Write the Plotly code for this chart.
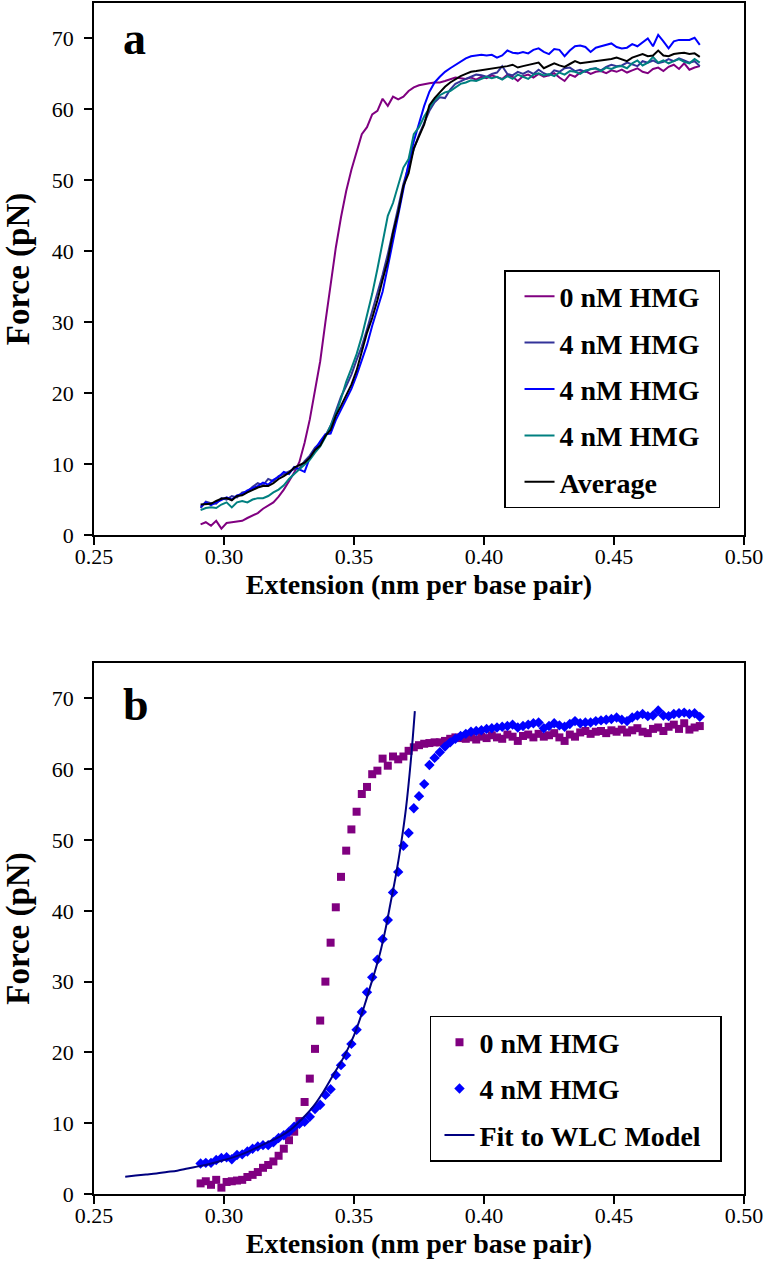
import plotly.graph_objects as go

# Extension (nm per base pair)
ext = [0.291, 0.293, 0.295, 0.297, 0.299, 0.301, 0.303, 0.305, 0.307, 0.309,
       0.311, 0.313, 0.315, 0.317, 0.319, 0.321, 0.323, 0.325, 0.327, 0.329,
       0.331, 0.333, 0.335, 0.337, 0.339, 0.341, 0.343, 0.345, 0.347, 0.349,
       0.351, 0.353, 0.355, 0.357, 0.359, 0.361, 0.363, 0.365, 0.367, 0.369,
       0.371, 0.373, 0.375, 0.377, 0.379, 0.381, 0.383, 0.385, 0.387, 0.389,
       0.391, 0.393, 0.395, 0.397, 0.399, 0.401, 0.403, 0.405, 0.407, 0.409,
       0.411, 0.413, 0.415, 0.417, 0.419, 0.421, 0.423, 0.425, 0.427, 0.429,
       0.431, 0.433, 0.435, 0.437, 0.439, 0.441, 0.443, 0.445, 0.447, 0.449,
       0.451, 0.453, 0.455, 0.457, 0.459, 0.461, 0.463, 0.465, 0.467, 0.469,
       0.471, 0.473, 0.475, 0.477, 0.479, 0.481, 0.483]

# Force (pN), 0 nM HMG
f_0nM = [1.5, 1.8, 1.3, 2.0, 0.9, 1.7, 1.8, 1.9, 2.0, 2.4,
         2.7, 3.1, 3.7, 4.1, 4.6, 5.4, 6.4, 7.6, 8.8, 10.3,
         13.0, 16.3, 20.5, 24.5, 30.0, 35.5, 40.5, 44.8, 48.5, 51.5,
         54.0, 56.5, 57.5, 59.3, 59.8, 61.5, 60.5, 61.8, 61.4, 61.8,
         62.6, 63.1, 63.4, 63.6, 63.7, 63.8, 63.8, 64.0, 64.3, 64.5,
         64.4, 64.3, 64.5, 64.2, 64.6, 64.4, 64.8, 64.5, 64.3, 64.9,
         64.6, 64.0, 64.7, 64.9, 64.5, 65.0, 64.6, 64.8, 65.1, 64.5,
         64.0, 64.9, 64.6, 65.2, 65.4, 65.0, 65.3, 65.4, 65.1, 65.5,
         65.3, 65.6, 65.2, 65.5, 65.8, 65.3, 65.1, 65.7, 65.9, 65.4,
         66.0, 66.3, 65.7, 66.5, 65.6, 65.9, 66.1]

# Force (pN), 4 nM HMG run 1 (dark blue)
f_4nM_1 = [3.8, 4.7, 4.5, 4.4, 5.2, 5.0, 5.5, 5.3, 6.0, 6.1,
           6.8, 7.3, 7.0, 7.9, 7.6, 8.3, 8.6, 9.0, 9.3, 9.4,
           10.4, 11.2, 12.3, 13.0, 14.0, 15.4, 17.6, 19.5, 21.0, 22.6,
           24.7, 26.6, 29.0, 31.5, 34.0, 36.7, 39.6, 43.0, 46.3, 49.5,
           52.0, 54.4, 56.4, 58.2, 59.8, 61.0, 61.7, 61.6, 62.8, 63.6,
           64.0, 64.3, 64.6, 64.9, 64.8, 64.6, 65.0, 65.2, 66.1, 65.0,
           64.8, 65.3, 65.0, 65.4, 65.0, 65.6, 65.1, 64.8, 65.5, 65.3,
           65.8, 65.9, 65.4, 65.6, 65.3, 65.7, 65.8, 65.5, 66.0, 66.3,
           66.1, 66.2, 66.6, 66.3, 66.1, 66.8, 66.6, 66.9, 66.5, 66.7,
           67.1, 66.8, 67.2, 66.9, 66.6, 66.8, 66.1]

# Force (pN), 4 nM HMG run 2 (blue)
f_4nM_2 = [4.0, 4.6, 4.2, 4.6, 5.0, 5.3, 5.0, 5.6, 5.8, 6.3,
           6.6, 6.9, 7.4, 7.1, 7.8, 8.2, 8.9, 8.6, 9.6, 9.2,
           8.9, 10.9, 12.1, 13.2, 14.2, 14.3, 16.2, 17.6, 19.0, 20.6,
           22.5, 24.6, 26.8, 29.5, 32.0, 34.3, 37.8, 41.5, 45.2, 49.0,
           52.4, 55.5, 58.0, 60.5, 62.5, 63.8, 64.6, 65.3, 65.8, 66.3,
           66.8, 67.2, 67.5, 67.6, 67.7, 67.6, 67.7, 67.3, 67.6, 68.3,
           68.0, 67.9, 68.1, 67.9, 68.4, 68.6, 68.1, 67.8, 68.5, 68.4,
           67.5, 68.3, 68.9, 69.0, 68.8, 68.1, 68.7, 68.9, 69.1, 69.3,
           68.8, 68.6, 68.7, 69.2, 68.9, 69.5, 70.0, 68.9, 70.5, 69.6,
           68.6, 69.6, 69.8, 69.8, 69.8, 70.1, 69.1]

# Force (pN), 4 nM HMG run 3 (teal)
f_4nM_3 = [3.5, 3.8, 3.9, 3.8, 4.3, 4.6, 3.9, 4.6, 4.8, 4.6,
           5.0, 5.2, 5.2, 5.5, 6.0, 6.4, 7.0, 7.9, 8.6, 9.3,
           10.0, 10.6, 11.6, 12.5, 13.8, 15.5, 17.0, 19.2, 21.6, 23.5,
           25.5, 28.0, 31.0, 34.0, 37.5, 41.5, 45.0, 46.8, 49.5, 51.8,
           53.0, 56.5, 57.5, 59.0, 60.2, 61.3, 62.0, 62.4, 62.6, 63.1,
           63.6, 63.8, 64.1, 64.0, 64.3, 64.6, 64.4, 64.6, 64.2, 64.7,
           64.3, 64.9, 64.6, 64.3, 64.9, 65.1, 64.8, 65.0, 64.7, 65.2,
           64.9, 65.4, 65.3, 65.0, 65.5, 65.6, 65.8, 65.4, 65.9, 65.7,
           66.0, 66.1, 65.8, 66.5, 66.9, 66.2, 66.6, 67.4, 66.6, 66.9,
           66.5, 66.8, 67.1, 66.7, 66.5, 67.1, 66.6]

# Force (pN), 4 nM HMG average
f_avg = [4.3, 4.4, 4.4, 4.8, 5.1, 5.2, 4.9, 5.5, 5.6, 6.0,
         6.4, 6.7, 6.9, 6.9, 7.3, 7.9, 8.3, 8.8, 9.5, 9.9,
         10.2, 10.9, 12.0, 12.6, 14.0, 14.8, 16.8, 18.2, 19.6, 21.2,
         23.2, 25.7, 28.5, 30.6, 33.1, 36.0, 38.7, 42.6, 45.5, 49.2,
         51.0, 54.5, 56.2, 57.9, 60.6, 61.6, 62.4, 63.2, 63.8, 64.3,
         64.7, 65.0, 65.3, 65.4, 65.5, 65.7, 65.8, 65.9, 66.0, 66.1,
         66.3, 65.9, 66.1, 66.3, 66.5, 66.6, 65.8, 66.1, 66.5, 66.2,
         66.0, 66.4, 66.8, 66.5, 66.6, 66.6, 66.8, 66.9, 67.0, 67.1,
         67.3, 67.0, 66.8, 67.3, 67.6, 67.8, 67.5, 67.6, 68.3, 67.6,
         67.5, 67.8, 67.9, 68.0, 67.8, 67.9, 67.4]

# Worm-like-chain fit
wlc_ext = [0.262, 0.266, 0.270, 0.274, 0.278, 0.282, 0.286, 0.290,
           0.294, 0.298, 0.302, 0.306, 0.310, 0.314, 0.318, 0.322, 0.326, 0.330,
           0.334, 0.338, 0.342, 0.346, 0.350, 0.354,
           0.356, 0.358, 0.360, 0.362, 0.364, 0.366, 0.368, 0.370, 0.372, 0.3734]
wlc_force = [2.45, 2.6, 2.75, 2.9, 3.1, 3.3, 3.6, 3.9,
             4.2, 4.6, 5.0, 5.5, 6.1, 6.8, 7.5, 8.2, 9.2, 10.6,
             12.2, 14.3, 16.8, 19.3, 22.4, 26.6,
             29.0, 31.4, 34.0, 37.2, 41.0, 44.8, 49.2, 54.5, 61.8, 68.2]

x_ticks = [0.25, 0.30, 0.35, 0.40, 0.45, 0.50]
x_tick_text = ["0.25", "0.30", "0.35", "0.40", "0.45", "0.50"]
y_ticks = [0, 10, 20, 30, 40, 50, 60, 70]

SERIF = "Times New Roman, Liberation Serif, Times, serif"
PURPLE = "#800080"
PAD = "\u00a0\u00a0"

fig = go.Figure()

line_series = [
    ("0 nM HMG" + PAD, f_0nM, PURPLE),
    ("4 nM HMG" + PAD, f_4nM_1, "#333399"),
    ("4 nM HMG" + PAD, f_4nM_2, "#0000FF"),
    ("4 nM HMG" + PAD, f_4nM_3, "#008080"),
    ("Average", f_avg, "#000000"),
]
for i, (name, ys, col) in enumerate(line_series):
    fig.add_trace(go.Scatter(x=ext, y=ys, mode="lines", name=name,
                             line=dict(color=col, width=2),
                             xaxis="x", yaxis="y", legend="legend",
                             legendgroup="a%d" % i))

fig.add_trace(go.Scatter(x=ext, y=f_0nM, mode="markers", name="0 nM HMG",
                         marker=dict(symbol="square", size=8, color=PURPLE),
                         xaxis="x2", yaxis="y2", legend="legend2", legendgroup="b0"))
fig.add_trace(go.Scatter(x=ext, y=f_avg, mode="markers", name="4 nM HMG",
                         marker=dict(symbol="diamond", size=8, color="#0000FF"),
                         xaxis="x2", yaxis="y2", legend="legend2", legendgroup="b1"))
fig.add_trace(go.Scatter(x=wlc_ext, y=wlc_force, mode="lines", name="Fit to WLC Model" + PAD,
                         line=dict(color="#000080", width=2, shape="spline"),
                         xaxis="x2", yaxis="y2", legend="legend2", legendgroup="b2"))

title_font = dict(family=SERIF, size=28, color="black", weight="bold")
ytitle_font = dict(family=SERIF, size=33, color="black", weight="bold")

def xax(anchor):
    return dict(anchor=anchor, domain=[0, 1], range=[0.25, 0.50], tickvals=x_ticks,
                ticktext=x_tick_text, ticks="outside", ticklen=8,
                tickwidth=1.5, tickcolor="black", showline=True, linecolor="black",
                linewidth=1.5, mirror=True, showgrid=False, zeroline=False,
                automargin=False, ticklabelstandoff=-7,
                tickfont=dict(family=SERIF, size=22, color="black"),
                title=dict(text="Extension (nm per base pair)", font=title_font, standoff=0))

def yax(anchor, dom):
    return dict(anchor=anchor, domain=dom, range=[0, 75], tickvals=y_ticks,
                ticks="outside", ticklen=8, tickwidth=1.5, tickcolor="black",
                showline=True, linecolor="black", linewidth=1.5, mirror=True,
                showgrid=False, zeroline=False, ticklabelstandoff=6, automargin=False,
                tickfont=dict(family=SERIF, size=22, color="black"),
                title=dict(text="Force (pN)", font=ytitle_font, standoff=22))

legend_common = dict(xanchor="left", yanchor="top", bgcolor="white",
                     bordercolor="black", borderwidth=1.5, tracegroupgap=7,
                     font=dict(family=SERIF, size=28, color="black", weight="bold"))

fig.update_layout(
    width=769, height=1280,
    margin=dict(l=94, r=25, t=3, b=86, autoexpand=False),
    paper_bgcolor="white", plot_bgcolor="white",
    font=dict(family=SERIF, size=22, color="black"),
    xaxis=xax("y"),
    yaxis=yax("x", [0.5533, 1.0]),
    xaxis2=xax("y2"),
    yaxis2=yax("x2", [0.0, 0.4458]),
    legend=dict(x=0.6308, y=0.7758, indentation=14, **legend_common),
    legend2=dict(x=0.5169, y=0.1495, indentation=8, **legend_common),
    showlegend=True,
    annotations=[
        dict(text="a", xref="paper", yref="paper", x=0.0415, y=0.9702,
             xanchor="left", yanchor="middle", showarrow=False,
             font=dict(family=SERIF, size=46, color="black", weight="bold")),
        dict(text="b", xref="paper", yref="paper", x=0.0415, y=0.411,
             xanchor="left", yanchor="middle", showarrow=False,
             font=dict(family=SERIF, size=46, color="black", weight="bold")),
    ],
)

fig.write_html("out.html", config={"displayModeBar": False},
               post_script="document.body.style.margin='0';document.body.style.padding='0';")
